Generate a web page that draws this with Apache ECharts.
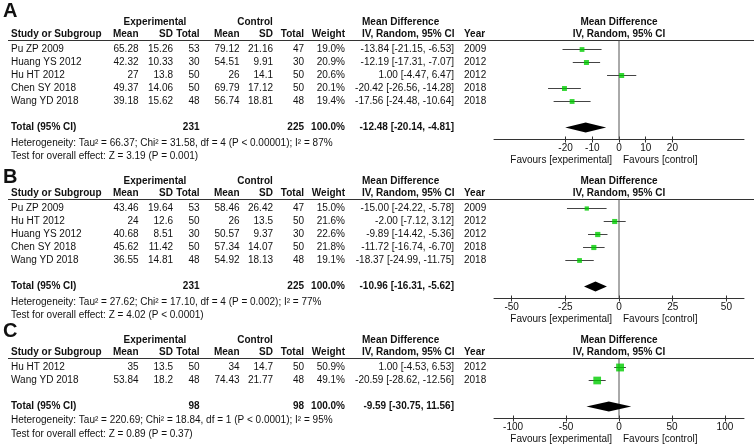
<!DOCTYPE html>
<html>
<head>
<meta charset="utf-8">
<title>Forest plot</title>
<script src="https://cdn.jsdelivr.net/npm/echarts@6.0.0/dist/echarts.min.js"></script>
<style>
html, body { margin: 0; padding: 0; background: #fff; }
#main { width: 754px; height: 448px; }
</style>
</head>
<body>
<div id="main"></div>
<script>
// ---- panel A ----
var studiesA = ['Pu ZP 2009', 'Huang YS 2012', 'Hu HT 2012', 'Chen SY 2018', 'Wang YD 2018'];
var expMeanA = [65.28, 42.32, 27, 49.37, 39.18];
var expSdA = [15.26, 10.33, 13.8, 14.06, 15.62];
var expNA = [53, 30, 50, 50, 48];
var ctlMeanA = [79.12, 54.51, 26, 69.79, 56.74];
var ctlSdA = [21.16, 9.91, 14.1, 17.12, 18.81];
var ctlNA = [47, 30, 50, 50, 48];
var weightA = [19.0, 20.9, 20.6, 20.1, 19.4];
var mdA = [-13.84, -12.19, 1.00, -20.42, -17.56];
var loA = [-21.15, -17.31, -4.47, -26.56, -24.48];
var hiA = [-6.53, -7.07, 6.47, -14.28, -10.64];
var yearA = [2009, 2012, 2012, 2018, 2018];
var totalA = [231, 225, -12.48, -20.14, -4.81]; // exp N, ctl N, md, lo, hi
var hetA = 'Heterogeneity: Tau\u00b2 = 66.37; Chi\u00b2 = 31.58, df = 4 (P < 0.00001); I\u00b2 = 87%';
var testA = 'Test for overall effect: Z = 3.19 (P = 0.001)';
var ticksA = [-20, -10, 0, 10, 20];

// ---- panel B ----
var studiesB = ['Pu ZP 2009', 'Hu HT 2012', 'Huang YS 2012', 'Chen SY 2018', 'Wang YD 2018'];
var expMeanB = [43.46, 24, 40.68, 45.62, 36.55];
var expSdB = [19.64, 12.6, 8.51, 11.42, 14.81];
var expNB = [53, 50, 30, 50, 48];
var ctlMeanB = [58.46, 26, 50.57, 57.34, 54.92];
var ctlSdB = [26.42, 13.5, 9.37, 14.07, 18.13];
var ctlNB = [47, 50, 30, 50, 48];
var weightB = [15.0, 21.6, 22.6, 21.8, 19.1];
var mdB = [-15.00, -2.00, -9.89, -11.72, -18.37];
var loB = [-24.22, -7.12, -14.42, -16.74, -24.99];
var hiB = [-5.78, 3.12, -5.36, -6.70, -11.75];
var yearB = [2009, 2012, 2012, 2018, 2018];
var totalB = [231, 225, -10.96, -16.31, -5.62];
var hetB = 'Heterogeneity: Tau\u00b2 = 27.62; Chi\u00b2 = 17.10, df = 4 (P = 0.002); I\u00b2 = 77%';
var testB = 'Test for overall effect: Z = 4.02 (P < 0.0001)';
var ticksB = [-50, -25, 0, 25, 50];

// ---- panel C ----
var studiesC = ['Hu HT 2012', 'Wang YD 2018'];
var expMeanC = [35, 53.84];
var expSdC = [13.5, 18.2];
var expNC = [50, 48];
var ctlMeanC = [34, 74.43];
var ctlSdC = [14.7, 21.77];
var ctlNC = [50, 48];
var weightC = [50.9, 49.1];
var mdC = [1.00, -20.59];
var loC = [-4.53, -28.62];
var hiC = [6.53, -12.56];
var yearC = [2012, 2018];
var totalC = [98, 98, -9.59, -30.75, 11.56];
var hetC = 'Heterogeneity: Tau\u00b2 = 220.69; Chi\u00b2 = 18.84, df = 1 (P < 0.0001); I\u00b2 = 95%';
var testC = 'Test for overall effect: Z = 0.89 (P = 0.37)';
var ticksC = [-100, -50, 0, 50, 100];

var panels = [
    {letter: 'A', studies: studiesA, expMean: expMeanA, expSd: expSdA, expN: expNA, ctlMean: ctlMeanA, ctlSd: ctlSdA, ctlN: ctlNA,
     weight: weightA, md: mdA, lo: loA, hi: hiA, year: yearA, total: totalA, het: hetA, test: testA, ticks: ticksA},
    {letter: 'B', studies: studiesB, expMean: expMeanB, expSd: expSdB, expN: expNB, ctlMean: ctlMeanB, ctlSd: ctlSdB, ctlN: ctlNB,
     weight: weightB, md: mdB, lo: loB, hi: hiB, year: yearB, total: totalB, het: hetB, test: testB, ticks: ticksB},
    {letter: 'C', studies: studiesC, expMean: expMeanC, expSd: expSdC, expN: expNC, ctlMean: ctlMeanC, ctlSd: ctlSdC, ctlN: ctlNC,
     weight: weightC, md: mdC, lo: loC, hi: hiC, year: yearC, total: totalC, het: hetC, test: testC, ticks: ticksC}
];

// layout (pixels)
var underlineY = [40.5, 199.5, 358.5];
var letterY = [11, 177, 331.5];
var hetY = [143, 302, 420];
var testY = [156.5, 315, 434];
var xHalfRange = [46.8, 58.2, 118];
var ROW = 13;
var FONT = '"Liberation Sans", Arial, sans-serif';
var INK = '#111';

function txt(x, y, s, align, bold, size) {
    return {
        type: 'text', silent: true,
        style: {
            x: x, y: y, text: String(s), align: align || 'left', verticalAlign: 'middle',
            font: (bold ? 'bold ' : '') + (size || 10) + 'px ' + FONT, fill: INK
        }
    };
}
function ci(md, lo, hi) {
    return md.toFixed(2) + ' [' + lo.toFixed(2) + ', ' + hi.toFixed(2) + ']';
}

var grids = [], xAxes = [], yAxes = [], series = [], graphics = [];

panels.forEach(function (p, i) {
    var n = p.studies.length;
    var top = underlineY[i];
    var height = 21 + (n + 1) * ROW;
    var axisY = top + height;
    var yMin = 1 - 9 / ROW, yMax = n + 2 + 12 / ROW;
    var rowY = function (k) { return top + 9 + (k - 1) * ROW; };

    grids.push({left: 494, width: 250, top: top, height: height});
    xAxes.push({
        gridIndex: i, type: 'value', position: 'bottom', min: -xHalfRange[i], max: xHalfRange[i],
        axisLine: {lineStyle: {color: '#333', width: 1}},
        axisTick: {length: 3, customValues: p.ticks, lineStyle: {color: '#333'}},
        axisLabel: {customValues: p.ticks, margin: 4, fontSize: 10, color: INK, fontFamily: FONT},
        splitLine: {show: false}
    });
    // second axis only for the upward half of the ticks
    xAxes.push({
        gridIndex: i, type: 'value', position: 'bottom', min: -xHalfRange[i], max: xHalfRange[i],
        axisLine: {show: false},
        axisTick: {inside: true, length: 3, customValues: p.ticks, lineStyle: {color: '#333'}},
        axisLabel: {show: false}, splitLine: {show: false}
    });
    yAxes.push({gridIndex: i, type: 'value', inverse: true, min: yMin, max: yMax, show: false});

    // zero line
    series.push({
        type: 'line', xAxisIndex: 2 * i, yAxisIndex: i, z: 1, silent: true, symbol: 'none',
        lineStyle: {color: '#555', width: 1},
        data: [[0, yMin], [0, yMax]]
    });
    // confidence intervals
    series.push({
        type: 'custom', xAxisIndex: 2 * i, yAxisIndex: i, z: 2, silent: true,
        encode: {x: [0, 1], y: 2},
        data: p.studies.map(function (s, k) { return [p.lo[k], p.hi[k], k + 1]; }),
        renderItem: function (params, api) {
            var a = api.coord([api.value(0), api.value(2)]);
            var b = api.coord([api.value(1), api.value(2)]);
            return {type: 'line', shape: {x1: a[0], y1: a[1], x2: b[0], y2: b[1]},
                    style: {stroke: '#444', lineWidth: 1}};
        }
    });
    // study squares
    series.push({
        type: 'scatter', xAxisIndex: 2 * i, yAxisIndex: i, z: 3, silent: true,
        symbol: 'rect',
        symbolSize: function (v) { return Math.sqrt(v[2]) * 1.1; },
        itemStyle: {color: '#00cc00'},
        data: p.studies.map(function (s, k) { return [p.md[k], k + 1, p.weight[k]]; })
    });
    // pooled diamond
    series.push({
        type: 'custom', xAxisIndex: 2 * i, yAxisIndex: i, z: 3, silent: true,
        encode: {x: [0, 1, 2], y: 3},
        data: [[p.total[3], p.total[2], p.total[4], n + 2]],
        renderItem: function (params, api) {
            var l = api.coord([api.value(0), api.value(3)]);
            var m = api.coord([api.value(1), api.value(3)]);
            var r = api.coord([api.value(2), api.value(3)]);
            return {type: 'polygon',
                    shape: {points: [[l[0], l[1]], [m[0], m[1] - 5], [r[0], r[1]], [m[0], m[1] + 5]]},
                    style: {fill: '#000'}};
        }
    });

    // ---- table text ----
    graphics.push(txt(3, letterY[i], p.letter, 'left', true, 20));
    graphics.push({type: 'line', silent: true, shape: {x1: 8, y1: top, x2: 754, y2: top},
                   style: {stroke: '#333', lineWidth: 1}});
    var h1 = top - 18, h2 = top - 6;
    graphics.push(txt(155, h1, 'Experimental', 'center', true));
    graphics.push(txt(255, h1, 'Control', 'center', true));
    graphics.push(txt(362, h1, 'Mean Difference', 'left', true));
    graphics.push(txt(619, h1, 'Mean Difference', 'center', true));
    graphics.push(txt(11, h2, 'Study or Subgroup', 'left', true));
    graphics.push(txt(138.5, h2, 'Mean', 'right', true));
    graphics.push(txt(173, h2, 'SD', 'right', true));
    graphics.push(txt(199.5, h2, 'Total', 'right', true));
    graphics.push(txt(239.5, h2, 'Mean', 'right', true));
    graphics.push(txt(273, h2, 'SD', 'right', true));
    graphics.push(txt(304, h2, 'Total', 'right', true));
    graphics.push(txt(345, h2, 'Weight', 'right', true));
    graphics.push(txt(362, h2, 'IV, Random, 95% CI', 'left', true));
    graphics.push(txt(464, h2, 'Year', 'left', true));
    graphics.push(txt(619, h2, 'IV, Random, 95% CI', 'center', true));

    p.studies.forEach(function (s, k) {
        var y = rowY(k + 1);
        graphics.push(txt(11, y, s, 'left'));
        graphics.push(txt(138.5, y, p.expMean[k], 'right'));
        graphics.push(txt(173, y, p.expSd[k], 'right'));
        graphics.push(txt(199.5, y, p.expN[k], 'right'));
        graphics.push(txt(239.5, y, p.ctlMean[k], 'right'));
        graphics.push(txt(273, y, p.ctlSd[k], 'right'));
        graphics.push(txt(304, y, p.ctlN[k], 'right'));
        graphics.push(txt(345, y, p.weight[k].toFixed(1) + '%', 'right'));
        graphics.push(txt(454, y, ci(p.md[k], p.lo[k], p.hi[k]), 'right'));
        graphics.push(txt(464, y, p.year[k], 'left'));
    });

    var ty = rowY(n + 2);
    graphics.push(txt(11, ty, 'Total (95% CI)', 'left', true));
    graphics.push(txt(199.5, ty, p.total[0], 'right', true));
    graphics.push(txt(304, ty, p.total[1], 'right', true));
    graphics.push(txt(345, ty, '100.0%', 'right', true));
    graphics.push(txt(454, ty, ci(p.total[2], p.total[3], p.total[4]), 'right', true));
    graphics.push(txt(11, hetY[i], p.het, 'left'));
    graphics.push(txt(11, testY[i], p.test, 'left'));
    graphics.push(txt(612, axisY + 21, 'Favours [experimental]', 'right'));
    graphics.push(txt(623, axisY + 21, 'Favours [control]', 'left'));
});

var myChart = echarts.init(document.getElementById('main'));
var option = {
    animation: false,
    backgroundColor: '#fff',
    grid: grids,
    xAxis: xAxes,
    yAxis: yAxes,
    series: series,
    graphic: {elements: graphics}
};
myChart.setOption(option);
</script>
</body>
</html>
